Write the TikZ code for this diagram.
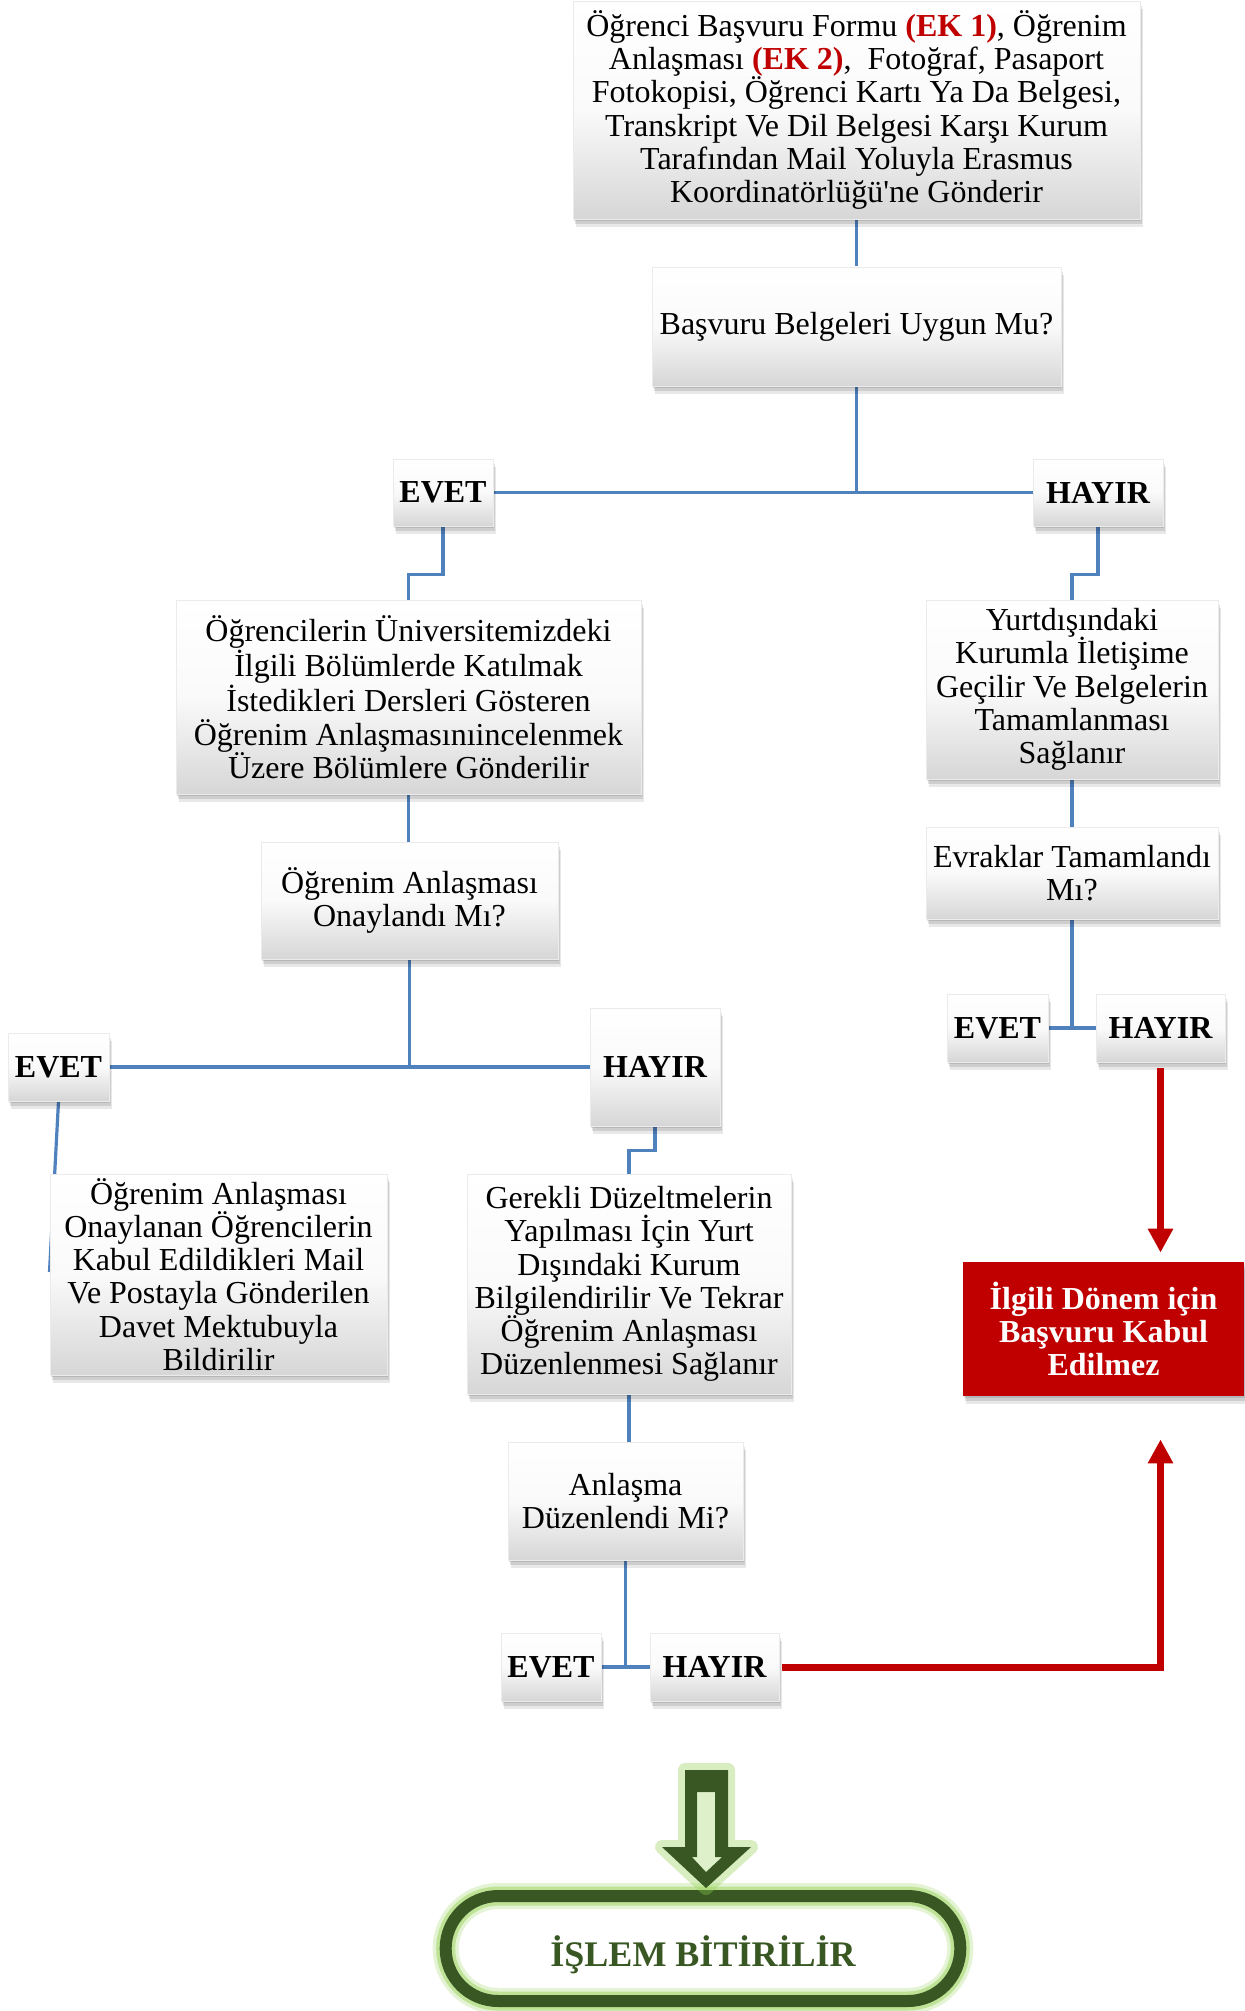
\documentclass[tikz,border=0pt]{standalone}
\usepackage{fontspec}
\setmainfont{Liberation Serif}
\usetikzlibrary{shadows,shapes.misc,arrows.meta,calc,backgrounds}
\definecolor{conblue}{RGB}{79,129,189}
\definecolor{ekred}{RGB}{192,0,0}
\definecolor{darkgreen}{RGB}{56,87,35}
\definecolor{glowgreen}{RGB}{146,208,80}
\tikzset{
  softshadow/.style={
    general shadow={fill=black,opacity=0.11,shadow xshift=0.5pt,shadow yshift=-1pt},
    general shadow={fill=black,opacity=0.11,shadow xshift=1pt,shadow yshift=-2.5pt},
    general shadow={fill=black,opacity=0.09,shadow xshift=1.5pt,shadow yshift=-4pt}},
  flowbox/.style={rectangle, softshadow, draw=black!8, line width=0.3pt,
    top color=white, bottom color=black!16, middle color=black!2,
    align=center, inner sep=1pt, font=\fontsize{16}{16.65}\selectfont},
  ynbox/.style={flowbox, font=\fontsize{16}{16.65}\selectfont\bfseries},
  bluecon/.style={draw=conblue, line width=1.6pt},
  redcon/.style={draw=ekred, line width=3.5pt, line join=miter, -{Triangle[width=12pt,length=12pt]}},
}
\begin{document}
\begin{tikzpicture}[x=0.5pt,y=-0.5pt]
\begin{scope}[on background layer]
  \fill[white] (0,0) rectangle (1244,2011);
\end{scope}
\useasboundingbox (0,0) rectangle (1244,2011);

% boxes
\node[flowbox, minimum width=283.5pt, minimum height=109pt] (top) at (856.5,110)
  {Öğrenci Başvuru Formu \textcolor{ekred}{\textbf{(EK 1)}}, Öğrenim\\
   Anlaşması \textcolor{ekred}{\textbf{(EK 2)}},\ \ Fotoğraf, Pasaport\\
   Fotokopisi, Öğrenci Kartı Ya Da Belgesi,\\
   Transkript Ve Dil Belgesi Karşı Kurum\\
   Tarafından Mail Yoluyla Erasmus\\
   Koordinatörlüğü\textquotesingle ne Gönderir};
\node[flowbox, minimum width=204.5pt, minimum height=59.5pt] (q1) at (856.5,326.5) {Başvuru Belgeleri Uygun Mu?};
\node[ynbox, minimum width=50pt, minimum height=33.5pt] (evet1) at (443,492.5) {EVET};
\node[ynbox, minimum width=65pt, minimum height=33.5pt] (hayir1) at (1098,492.5) {HAYIR};
\node[flowbox, minimum width=232.5pt, minimum height=97pt] (ogr) at (408.5,697)
  {Öğrencilerin Üniversitemizdeki\\ İlgili Bölümlerde Katılmak\\ İstedikleri Dersleri Gösteren\\ Öğrenim Anlaşmasınıincelenmek\\ Üzere Bölümlere Gönderilir};
\node[flowbox, minimum width=146pt, minimum height=89.5pt] (yurt) at (1072,689.5)
  {Yurtdışındaki\\ Kurumla İletişime\\ Geçilir Ve Belgelerin\\ Tamamlanması\\ Sağlanır};
\node[flowbox, minimum width=148.5pt, minimum height=58.5pt] (q2) at (409.5,900.5) {Öğrenim Anlaşması\\ Onaylandı Mı?};
\node[flowbox, minimum width=146pt, minimum height=46pt] (evrak) at (1072,873) {Evraklar Tamamlandı\\ Mı?};
\node[ynbox, minimum width=50.5pt, minimum height=34pt] (evet2) at (58.5,1067) {EVET};
\node[ynbox, minimum width=65pt, minimum height=59pt] (hayir2) at (655,1067) {HAYIR};
\node[ynbox, minimum width=50.5pt, minimum height=34pt] (evet4) at (997.5,1028) {EVET};
\node[ynbox, minimum width=64.5pt, minimum height=34pt] (hayir4) at (1160.5,1028) {HAYIR};
\node[flowbox, minimum width=168.5pt, minimum height=100.5pt] (kabul) at (218.5,1274.5)
  {Öğrenim Anlaşması\\ Onaylanan Öğrencilerin\\ Kabul Edildikleri Mail\\ Ve Postayla Gönderilen\\ Davet Mektubuyla\\ Bildirilir};
\node[flowbox, minimum width=162pt, minimum height=110pt] (gerekli) at (629,1284)
  {Gerekli Düzeltmelerin\\ Yapılması İçin Yurt\\ Dışındaki Kurum\\ Bilgilendirilir Ve Tekrar\\ Öğrenim Anlaşması\\ Düzenlenmesi Sağlanır};
\node[rectangle, fill=ekred, softshadow, minimum width=140.5pt, minimum height=67pt, inner sep=1pt,
  text=white, align=center, font=\fontsize{16}{16.65}\selectfont\bfseries] (red) at (1103.5,1329)
  {İlgili Dönem için\\ Başvuru Kabul\\ Edilmez};
\node[flowbox, minimum width=117.5pt, minimum height=59pt] (q3) at (625.5,1501) {Anlaşma\\ Düzenlendi Mi?};
\node[ynbox, minimum width=50pt, minimum height=34pt] (evet3) at (551,1667) {EVET};
\node[ynbox, minimum width=64.5pt, minimum height=34pt] (hayir3) at (714.5,1667) {HAYIR};

% final stadium with glow
\node[rounded rectangle, draw=darkgreen, line width=6pt, minimum width=264pt, minimum height=52.5pt,
  preaction={draw=glowgreen, line width=13pt, opacity=0.25},
  preaction={draw=glowgreen, line width=9.5pt, opacity=0.45},
  text=darkgreen, font=\fontsize{18}{20}\selectfont\bfseries] (done) at (703,1948.5)
  {\raisebox{-3pt}[\height][\depth]{İŞLEM BİTİRİLİR}};

% hollow green arrow
\draw[glowgreen, line width=7pt, opacity=0.35, line join=round]
  (685,1770) -- (728,1770) -- (728,1847) -- (751,1847) -- (706,1888) -- (662,1847) -- (685,1847) -- cycle;
\fill[darkgreen, even odd rule]
  (685,1770) -- (728,1770) -- (728,1847) -- (751,1847) -- (706,1888) -- (662,1847) -- (685,1847) -- cycle
  (697,1792) -- (715,1792) -- (715,1857) -- (722,1857) -- (706,1872) -- (692,1857) -- (697,1857) -- cycle;
\fill[glowgreen, opacity=0.3]
  (697,1792) -- (715,1792) -- (715,1857) -- (722,1857) -- (706,1872) -- (692,1857) -- (697,1857) -- cycle;

% blue connectors (behind boxes)
\coordinate (e2end) at (49.5,1272);
\begin{scope}[on background layer]
  \draw[bluecon] (top.south) -- (q1.north);
  \draw[bluecon] (q1.south) -- (q1.south |- evet1.east);
  \draw[bluecon] (evet1.east) -- (hayir1.west);
  \draw[bluecon] (evet1.south) |- ($(ogr.north)+(0,-25)$) -- (ogr.north);
  \draw[bluecon] (hayir1.south) |- ($(yurt.north)+(0,-25)$) -- (yurt.north);
  \draw[bluecon] (ogr.south) -- (ogr.south |- q2.north);
  \draw[bluecon] (yurt.south) -- (evrak.north);
  \draw[bluecon] (q2.south) -- (q2.south |- evet2.east);
  \draw[bluecon] (evet2.east) -- (hayir2.west);
  \draw[bluecon] (evet2.south) -- (e2end);
  \draw[bluecon] (hayir2.south) |- ($(gerekli.north)+(0,-23)$) -- (gerekli.north);
  \draw[bluecon] (evrak.south) -- (evrak.south |- evet4.east);
  \draw[bluecon] (evet4.east) -- (hayir4.west);
  \draw[bluecon] (gerekli.south) -- (gerekli.south |- q3.north);
  \draw[bluecon] (q3.south) -- (q3.south |- evet3.east);
  \draw[bluecon] (evet3.east) -- (hayir3.west);
\end{scope}

% red connectors
\draw[redcon, shorten <=3pt, shorten >=4.5pt] (hayir4.south) -- (hayir4.south |- red.north);
\draw[redcon, shorten <=1.5pt, shorten >=21.5pt] (hayir3.east) -| (red.south -| hayir4.south);
\end{tikzpicture}
\end{document}
